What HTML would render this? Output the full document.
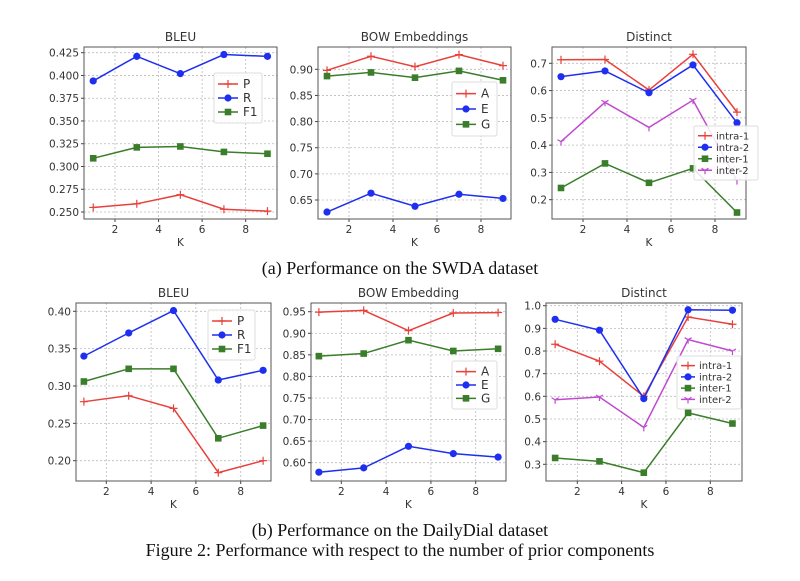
<!DOCTYPE html>
<html><head><meta charset="utf-8">
<style>
html,body{margin:0;padding:0;background:#fff;width:800px;height:581px;overflow:hidden}
svg{display:block}
.cap{font-family:"Liberation Serif",serif;font-size:18px;fill:#111}
.t{font-family:"DejaVu Sans",sans-serif;fill:#333}
</style></head>
<body>
<svg id="fig" width="800" height="581" viewBox="0 0 800 581" xmlns="http://www.w3.org/2000/svg">
<text class="cap" x="400" y="274" text-anchor="middle">(a) Performance on the SWDA dataset</text>
<text class="cap" x="400" y="536" text-anchor="middle">(b) Performance on the DailyDial dataset</text>
<text class="cap" x="400" y="556" text-anchor="middle">Figure 2: Performance with respect to the number of prior components</text>
</svg>
<script>
const kValues=[1,3,5,7,9];
const xTicks=[2,4,6,8];
// SWDA BLEU
const swdaBleuP=[0.255,0.259,0.269,0.253,0.251];
const swdaBleuR=[0.394,0.421,0.402,0.423,0.421];
const swdaBleuF1=[0.309,0.321,0.322,0.316,0.314];
const swdaBleuTicks=[0.250,0.275,0.300,0.325,0.350,0.375,0.400,0.425];
// SWDA BOW
const swdaBowA=[0.898,0.925,0.905,0.928,0.907];
const swdaBowE=[0.627,0.663,0.638,0.661,0.653];
const swdaBowG=[0.887,0.894,0.884,0.897,0.879];
const swdaBowTicks=[0.65,0.70,0.75,0.80,0.85,0.90];
// SWDA Distinct
const swdaIntra1=[0.713,0.714,0.602,0.733,0.521];
const swdaIntra2=[0.651,0.672,0.592,0.694,0.482];
const swdaInter1=[0.243,0.333,0.262,0.315,0.153];
const swdaInter2=[0.413,0.557,0.465,0.565,0.270];
const swdaDistTicks=[0.2,0.3,0.4,0.5,0.6,0.7];
// DailyDial BLEU
const ddBleuP=[0.279,0.287,0.270,0.184,0.200];
const ddBleuR=[0.340,0.371,0.401,0.308,0.321];
const ddBleuF1=[0.306,0.323,0.323,0.230,0.247];
const ddBleuTicks=[0.20,0.25,0.30,0.35,0.40];
// DailyDial BOW
const ddBowA=[0.949,0.953,0.906,0.947,0.948];
const ddBowE=[0.578,0.588,0.638,0.621,0.613];
const ddBowG=[0.847,0.853,0.884,0.859,0.864];
const ddBowTicks=[0.60,0.65,0.70,0.75,0.80,0.85,0.90,0.95];
// DailyDial Distinct
const ddIntra1=[0.830,0.755,0.600,0.950,0.918];
const ddIntra2=[0.940,0.892,0.590,0.982,0.980];
const ddInter1=[0.328,0.313,0.263,0.527,0.480];
const ddInter2=[0.585,0.597,0.463,0.850,0.800];
const ddDistTicks=[0.3,0.4,0.5,0.6,0.7,0.8,0.9,1.0];

const NS="http://www.w3.org/2000/svg";
const svg=document.getElementById('fig');
const RED="#e8403a",BLUE="#1f2ff0",GREEN="#3a7d2a",MAG="#c04ad0";
function mk(tag,attrs,parent){const e=document.createElementNS(NS,tag);for(const k in attrs)e.setAttribute(k,attrs[k]);(parent||svg).appendChild(e);return e;}

const panels=[
 {name:'swda-bleu',title:'BLEU',f:[84,277,47,219],xc:[115,245.7],yc:[0.425,52.7,0.250,212],ticks:swdaBleuTicks,dec:3,
  series:[['P',swdaBleuP,RED,'plus'],['R',swdaBleuR,BLUE,'circle'],['F1',swdaBleuF1,GREEN,'square']],leg:[214,73,48,50]},
 {name:'swda-bow',title:'BOW Embeddings',f:[318,511,47,219],xc:[349,481],yc:[0.90,69.3,0.65,200],ticks:swdaBowTicks,dec:2,
  series:[['A',swdaBowA,RED,'plus'],['E',swdaBowE,BLUE,'circle'],['G',swdaBowG,GREEN,'square']],leg:[452,82,45,54]},
 {name:'swda-distinct',title:'Distinct',f:[552,746,47,219],xc:[583,715],yc:[0.7,63.3,0.2,199.7],ticks:swdaDistTicks,dec:1,
  series:[['intra-1',swdaIntra1,RED,'plus'],['intra-2',swdaIntra2,BLUE,'circle'],['inter-1',swdaInter1,GREEN,'square'],['inter-2',swdaInter2,MAG,'tri']],leg:[694,126,64,54]},
 {name:'dd-bleu',title:'BLEU',f:[76,271,303,481],xc:[106.3,240.7],yc:[0.40,311.3,0.20,460.7],ticks:ddBleuTicks,dec:2,
  series:[['P',ddBleuP,RED,'plus'],['R',ddBleuR,BLUE,'circle'],['F1',ddBleuF1,GREEN,'square']],leg:[208,310,47,50]},
 {name:'dd-bow',title:'BOW Embedding',f:[311,506,303,481],xc:[341.3,475.7],yc:[0.95,311.7,0.60,462.7],ticks:ddBowTicks,dec:2,
  series:[['A',ddBowA,RED,'plus'],['E',ddBowE,BLUE,'circle'],['G',ddBowG,GREEN,'square']],leg:[452,361,45,48]},
 {name:'dd-distinct',title:'Distinct',f:[546,742,303,481],xc:[577.3,710.3],yc:[1.0,305.7,0.3,464.3],ticks:ddDistTicks,dec:1,
  series:[['intra-1',ddIntra1,RED,'plus'],['intra-2',ddIntra2,BLUE,'circle'],['inter-1',ddInter1,GREEN,'square'],['inter-2',ddInter2,MAG,'tri']],leg:[677,356,64,53]}
];

function marker(g,type,x,y,c){
  let m;
  if(type==='circle') m=mk('circle',{cx:x,cy:y,r:3.6,fill:c},g);
  else if(type==='square') m=mk('rect',{x:x-3.3,y:y-3.3,width:6.6,height:6.6,fill:c},g);
  else if(type==='plus') m=mk('path',{d:`M${x-4} ${y}H${x+4}M${x} ${y-4}V${y+4}`,stroke:c,'stroke-width':1.2},g);
  else m=mk('path',{d:`M${x} ${y}V${y+4}M${x} ${y}L${x-3.5} ${y-2}M${x} ${y}L${x+3.5} ${y-2}`,stroke:c,'stroke-width':1.2},g);
  return m;
}

panels.forEach(p=>{
  const [x0,x1,y0,y1]=p.f;
  const sx=k=>p.xc[0]+(k-2)*(p.xc[1]-p.xc[0])/6;
  const sy=v=>p.yc[1]+(v-p.yc[0])*(p.yc[3]-p.yc[1])/(p.yc[2]-p.yc[0]);
  const g=mk('g',{});
  
  
  const t=mk('text',{x:(x0+x1)/2,y:y0-6,'text-anchor':'middle','font-size':12,class:'t'},g);
  t.textContent=p.title;
  
  
  xTicks.forEach(k=>{
    const x=sx(k);
    mk('line',{x1:x,x2:x,y1:y0,y2:y1,stroke:'#bbb','stroke-width':0.8,'stroke-dasharray':'2,2'},g);
    mk('line',{x1:x,x2:x,y1:y1,y2:y1+3,stroke:'#444'},g);
    const tl=mk('text',{x:x,y:y1+14,'text-anchor':'middle','font-size':10.5,class:'t'},g);
    tl.textContent=k;
    
    
  });
  p.ticks.forEach(v=>{
    const y=sy(v);
    mk('line',{x1:x0,x2:x1,y1:y,y2:y,stroke:'#bbb','stroke-width':0.8,'stroke-dasharray':'2,2'},g);
    mk('line',{x1:x0-3,x2:x0,y1:y,y2:y,stroke:'#444'},g);
    const tl=mk('text',{x:x0-5,y:y+4,'text-anchor':'end','font-size':10.5,class:'t'},g);
    tl.textContent=v.toFixed(p.dec);
    
    
  });
  const xl=mk('text',{x:(x0+x1)/2,y:y1+27,'text-anchor':'middle','font-size':10.5,class:'t'},g);
  xl.textContent='K';
  
  
  p.series.forEach(s=>{
    const sg=mk('g',{},g);
    
    
    const pts=s[1].map((v,i)=>sx(kValues[i])+','+sy(v)).join(' ');
    mk('polyline',{points:pts,fill:'none',stroke:s[2],'stroke-width':1.5},sg);
    s[1].forEach((v,i)=>{const m=marker(sg,s[3],sx(kValues[i]),sy(v),s[2]);
      
      });
  });
  mk('rect',{x:x0,y:y0,width:x1-x0,height:y1-y0,fill:'none',stroke:'#555','stroke-width':1},g);
  const [lx,ly,lw,lh]=p.leg;
  const lg=mk('g',{},g);
  
  
  mk('rect',{x:lx,y:ly,width:lw,height:lh,fill:'#fff','fill-opacity':0.85,stroke:'#ddd',rx:2},lg);
  const n=p.series.length, step=(lh-8)/n;
  const small=n>3;
  p.series.forEach((s,i)=>{
    const yy=ly+4+step*(i+0.5);
    const le=small?18:24;
    mk('line',{x1:lx+4,x2:lx+le,y1:yy,y2:yy,stroke:s[2],'stroke-width':1.5},lg);
    marker(lg,s[3],lx+4+(le-4)/2,yy,s[2]);
    const lt=mk('text',{x:lx+le+(small?4:5),y:yy+(small?3.5:4),'font-size':small?10:12,class:'t'},lg);
    lt.textContent=s[0];
    
    
  });
});
</script>
</body></html>
